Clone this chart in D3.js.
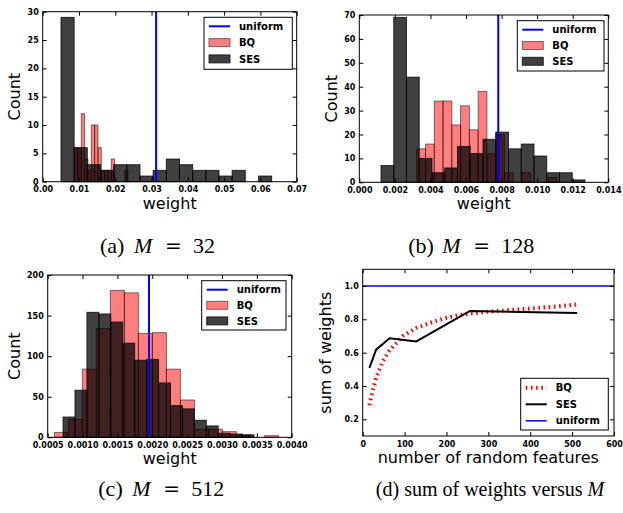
<!DOCTYPE html>
<html><head><meta charset="utf-8">
<script src="https://cdn.jsdelivr.net/npm/d3@7"></script>
<style>
body{margin:0;background:#fff;}
svg{display:block;background:#fff;}
.tick text{font-family:"DejaVu Sans";font-weight:bold;font-size:8px;fill:#000;}
.lg{font-family:"DejaVu Sans";font-weight:bold;font-size:10px;fill:#000;}
.al{font-family:"DejaVu Sans";font-size:16px;fill:#000;}
</style></head><body>
<svg id="c" width="623" height="513"></svg>
<script>
// ---------- data ----------
// (a) M = 32
const aBQRange = [0.0088, 0.0235];
const aBQCounts = [6, 6, 12, 4, 2, 10, 10, 6, 2, 2, 2, 4, 0, 0, 0, 2];
const aSESRange = [0.00504, 0.0631];
const aSESCounts = [29, 6, 3, 2, 3, 3, 1, 2, 4, 3, 2, 2, 1, 2, 0, 1];
const aUniform = 0.03125;
const aXTicks = [0, 0.01, 0.02, 0.03, 0.04, 0.05, 0.06, 0.07];
const aYTicks = [0, 5, 10, 15, 20, 25, 30];
// (b) M = 128
const bBQRange = [0.00323, 0.01112];
const bBQCounts = [14, 16, 34, 34, 24, 32, 22, 38, 12, 20, 4, 0, 4, 0, 0, 2];
const bSESRange = [0.00122, 0.01269];
const bSESCounts = [7, 69, 44, 10, 4, 6, 15, 12, 18, 21, 14, 16, 11, 4, 4, 1];
const bUniform = 0.0078125;
const bXTicks = [0, 0.002, 0.004, 0.006, 0.008, 0.010, 0.012, 0.014];
const bYTicks = [0, 10, 20, 30, 40, 50, 60, 70];
// (c) M = 512
const cBQRange = [0.000595, 0.00381];
const cBQCounts = [6, 22, 84, 134, 181, 178, 128, 129, 84, 46, 10, 10, 7, 3, 0, 2];
const cSESRange = [0.00072, 0.00346];
const cSESCounts = [25, 58, 154, 152, 142, 116, 95, 96, 67, 39, 35, 21, 14, 5, 4, 3];
const cUniform = 0.001953125;
const cXTicks = [0.0005, 0.0010, 0.0015, 0.0020, 0.0025, 0.0030, 0.0035, 0.0040];
const cYTicks = [0, 50, 100, 150, 200];
// (d) sum of weights
const dBQ_M = [16, 24, 32, 48, 64, 96, 128, 160, 192, 224, 256, 320, 384, 448, 512];
const dBQ = [0.285, 0.375, 0.45, 0.548, 0.613, 0.70, 0.748, 0.778, 0.804, 0.822, 0.834, 0.850, 0.862, 0.874, 0.889];
const dSES_M = [16, 32, 64, 128, 256, 512];
const dSES = [0.508, 0.618, 0.686, 0.667, 0.850, 0.838];
const dUniform = 1.0;
const dXTicks = [0, 100, 200, 300, 400, 500, 600];
const dYTicks = [0.2, 0.4, 0.6, 0.8, 1.0];
const legendLabels = ["uniform", "BQ", "SES"];

// ---------- drawing ----------
const svg = d3.select("#c");

function frame(g, x, y, xTicks, yTicks, xFmt, yFmt) {
  const [x0, x1] = x.range(), [y0, y1] = y.range();
  const rm = s => s.select(".domain").remove();
  g.append("g").attr("transform", `translate(0,${y0})`)
    .call(d3.axisBottom(x).tickValues(xTicks).tickFormat(xFmt).tickSizeInner(-4).tickSizeOuter(0).tickPadding(5)).call(rm);
  g.append("g").attr("transform", `translate(0,${y1})`)
    .call(d3.axisTop(x).tickValues(xTicks).tickFormat("").tickSizeInner(-4).tickSizeOuter(0)).call(rm);
  g.append("g").attr("transform", `translate(${x0},0)`)
    .call(d3.axisLeft(y).tickValues(yTicks).tickFormat(yFmt).tickSizeInner(-4).tickSizeOuter(0).tickPadding(4)).call(rm);
  g.append("g").attr("transform", `translate(${x1},0)`)
    .call(d3.axisRight(y).tickValues(yTicks).tickFormat("").tickSizeInner(-4).tickSizeOuter(0)).call(rm);
  g.append("rect").attr("x", x0).attr("y", y1).attr("width", x1 - x0).attr("height", y0 - y1)
    .attr("fill", "none").attr("stroke", "#000").attr("stroke-width", 1);
}

function bars(g, x, y, range, counts, fill, alpha) {
  const n = counts.length;
  const edges = d3.range(n + 1).map(i => range[0] + (range[1] - range[0]) * i / n);
  const data = counts.map((c, i) => ({x0: edges[i], x1: edges[i + 1], c})).filter(d => d.c > 0);
  g.append("g").selectAll("rect").data(data).join("rect")
    .attr("x", d => x(d.x0)).attr("width", d => x(d.x1) - x(d.x0))
    .attr("y", d => y(d.c)).attr("height", d => y(0) - y(d.c))
    .attr("fill", fill).attr("fill-opacity", alpha)
    .attr("stroke", "#000").attr("stroke-opacity", alpha).attr("stroke-width", 1);
}

function legend(g, box, rows) {
  g.append("rect").attr("x", box[0]).attr("y", box[1]).attr("width", box[2]).attr("height", box[3])
    .attr("fill", "#fff").attr("stroke", "#000").attr("stroke-width", 1);
  const hx0 = box[0] + 5, hx1 = box[0] + 26, tx = box[0] + 35;
  rows.forEach(r => {
    if (r.kind === "line") {
      g.append("line").attr("x1", hx0).attr("x2", hx1).attr("y1", r.y).attr("y2", r.y)
        .attr("stroke", r.color).attr("stroke-width", r.w || 2).attr("stroke-dasharray", r.dash || null);
    } else {
      g.append("rect").attr("x", hx0).attr("y", r.y - 4).attr("width", hx1 - hx0).attr("height", 8)
        .attr("fill", r.color).attr("fill-opacity", r.alpha).attr("stroke", "#000").attr("stroke-opacity", r.alpha);
    }
    g.append("text").attr("class", "lg").attr("x", tx).attr("y", r.y).attr("dy", "0.36em").text(r.label);
  });
}

function histPanel(p) {
  const g = svg.append("g");
  const x = d3.scaleLinear().domain(p.xDom).range(p.xR);
  const y = d3.scaleLinear().domain(p.yDom).range(p.yR);
  bars(g, x, y, p.bq[0], p.bq[1], "#ff0000", 0.5);
  bars(g, x, y, p.ses[0], p.ses[1], "#000000", 0.75);
  g.append("line").attr("x1", x(p.uni)).attr("x2", x(p.uni)).attr("y1", p.yR[0]).attr("y2", p.yR[1])
    .attr("stroke", "#0000ff").attr("stroke-width", 2);
  frame(g, x, y, p.xTicks, p.yTicks, d3.format(p.fmt), d3.format("d"));
  g.append("text").attr("class", "al").attr("text-anchor", "middle")
    .attr("x", (p.xR[0] + p.xR[1]) / 2).attr("y", p.yR[0] + 27).text("weight");
  g.append("text").attr("class", "al").attr("text-anchor", "middle")
    .attr("transform", `translate(${p.cx},${(p.yR[0] + p.yR[1]) / 2}) rotate(-90)`).text("Count");
  const b = p.box, sp = p.sp;
  legend(g, b, [
    {kind: "line", label: legendLabels[0], color: "#0000ff", y: b[1] + 9},
    {kind: "patch", label: legendLabels[1], color: "#ff0000", alpha: 0.5, y: b[1] + 9 + sp},
    {kind: "patch", label: legendLabels[2], color: "#000000", alpha: 0.75, y: b[1] + 9 + 2 * sp}
  ]);
}

histPanel({xDom: [0, 0.07], xR: [42.7, 296.7], yDom: [0, 30], yR: [181.7, 11.7],
  bq: [aBQRange, aBQCounts], ses: [aSESRange, aSESCounts], uni: aUniform,
  xTicks: aXTicks, yTicks: aYTicks, fmt: ".2f", cx: 20, box: [204, 17.3, 88.3, 52], sp: 16.3});
histPanel({xDom: [0, 0.014], xR: [359.3, 608.3], yDom: [0, 70], yR: [182.3, 15],
  bq: [bBQRange, bBQCounts], ses: [bSESRange, bSESCounts], uni: bUniform,
  xTicks: bXTicks, yTicks: bYTicks, fmt: ".3f", cx: 336.5, box: [517.3, 20.7, 86.7, 50.3], sp: 15.8});
histPanel({xDom: [0.0005, 0.004], xR: [47.7, 291.7], yDom: [0, 200], yR: [437.3, 275],
  bq: [cBQRange, cBQCounts], ses: [cSESRange, cSESCounts], uni: cUniform,
  xTicks: cXTicks, yTicks: cYTicks, fmt: ".4f", cx: 20, box: [201.7, 280.7, 84.3, 49.3], sp: 15.6});

// (d)
(function () {
  const g = svg.append("g");
  const x = d3.scaleLinear().domain([0, 600]).range([362.7, 614]);
  const y = d3.scaleLinear().domain([0.1, 1.1]).range([436, 269.3]);
  const line = d3.line().x(d => x(d[0])).y(d => y(d[1]));
  g.append("path").datum(dBQ_M.map((m, i) => [m, dBQ[i]])).attr("d", line)
    .attr("fill", "none").attr("stroke", "#ff0000").attr("stroke-width", 4).attr("stroke-dasharray", "1.6,3.6");
  g.append("path").datum(dSES_M.map((m, i) => [m, dSES[i]])).attr("d", line)
    .attr("fill", "none").attr("stroke", "#000").attr("stroke-width", 2);
  g.append("line").attr("x1", x(0)).attr("x2", x(600)).attr("y1", y(dUniform)).attr("y2", y(dUniform))
    .attr("stroke", "#0000ff").attr("stroke-width", 1.5);
  frame(g, x, y, dXTicks, dYTicks, d3.format("d"), d3.format(".1f"));
  g.append("text").attr("class", "al").attr("text-anchor", "middle")
    .attr("x", 488.3).attr("y", 463).text("number of random features");
  g.append("text").attr("class", "al").attr("text-anchor", "middle")
    .attr("transform", `translate(331,352.7) rotate(-90)`).text("sum of weights");
  legend(g, [520.7, 378.3, 87.6, 51.7], [
    {kind: "line", label: "BQ", color: "#ff0000", w: 4, dash: "1.6,3.6", y: 387.8},
    {kind: "line", label: "SES", color: "#000", w: 2, y: 404.3},
    {kind: "line", label: "uniform", color: "#0000ff", w: 1.5, y: 420.8}
  ]);
})();

// captions
function caption(x0, yb, parts) {
  const t = svg.append("text").attr("y", yb).style("font-size", "22px");
  parts.forEach(p => {
    t.append("tspan").attr("x", x0 + p.o).text(p.t)
      .style("font-family", p.f || "Liberation Serif")
      .style("font-style", p.i ? "italic" : "normal")
      .style("font-size", p.s || null);
  });
}
const mathParts = (lab, num) => [
  {t: lab, o: 0}, {t: "M", o: 34, i: true}, {t: "=", o: 65, f: "DejaVu Serif", s: "20px"}, {t: num, o: 93}];
caption(100, 253, mathParts("(a)", "32"));
caption(408.3, 253, mathParts("(b)", "128"));
caption(98.3, 496, mathParts("(c)", "512"));
(function () {
  const t = svg.append("text").attr("x", 490).attr("y", 496).attr("text-anchor", "middle")
    .style("font-size", "20px").style("font-family", "Liberation Serif");
  t.append("tspan").text("(d) sum of weights versus ");
  t.append("tspan").style("font-style", "italic").text("M");
})();
</script></body></html>
